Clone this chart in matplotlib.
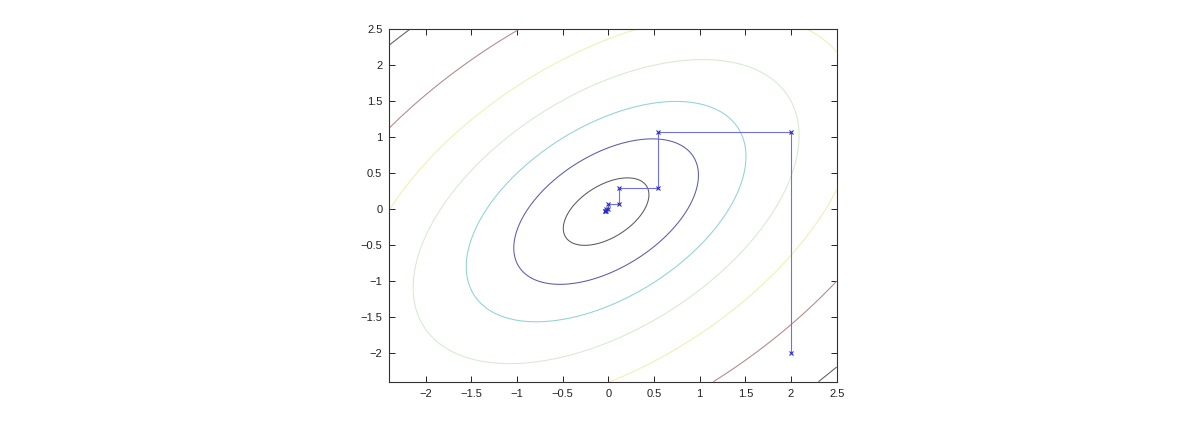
import numpy as np
import matplotlib
matplotlib.use("Agg")
import matplotlib.pyplot as plt

plt.rcParams['font.family'] = ['Liberation Sans', 'DejaVu Sans']

# quadratic bowl: f = (x-cx)^2 - (x-cx)(y-cy) + (y-cy)^2
cx, cy = -0.025, -0.035
levels = [0.165, 0.767, 1.76, 3.35, 5.7, 9.75, 16.5]
level_colors = ['#5a5a5a', '#5a5ab2', '#8fd2d8', '#d6ead0', '#efefb2', '#b38585', '#5e5e5e']

# coordinate descent path
path_x = [2.0, 2.0, 0.54, 0.54, 0.115, 0.115, 0.0, 0.0, -0.03, -0.03, -0.04, -0.04]
path_y = [-2.0, 1.07, 1.07, 0.29, 0.29, 0.07, 0.07, 0.0, 0.0, -0.02, -0.02, -0.03]

xticks = [-2, -1.5, -1, -0.5, 0, 0.5, 1, 1.5, 2, 2.5]
yticks = [-2, -1.5, -1, -0.5, 0, 0.5, 1, 1.5, 2, 2.5]

fig = plt.figure(figsize=(12, 4.22), dpi=100)
ax = fig.add_axes([0.3244, 0.0955, 0.3728, 0.8351])

gx = np.linspace(-2.4, 2.5, 400)
gy = np.linspace(-2.4, 2.5, 400)
X, Y = np.meshgrid(gx, gy)
U, V = X - cx, Y - cy
Z = U**2 - U * V + V**2
ax.contour(X, Y, Z, levels=levels, colors=level_colors, linewidths=0.75)

ax.plot(path_x, path_y, '-', color='#7070e6', linewidth=0.8)
ax.plot(path_x, path_y, 'x', color='#2a2acc', markersize=3, markeredgewidth=0.8)

ax.set_xlim(-2.4, 2.5)
ax.set_ylim(-2.4, 2.5)
ax.set_xticks(xticks)
ax.set_yticks(yticks)
ax.set_xticklabels([f"{t:g}".replace('-', '\u2212') for t in xticks])
ax.set_yticklabels([f"{t:g}".replace('-', '\u2212') for t in yticks])
ax.tick_params(direction='in', top=True, right=True, length=4, width=0.7,
               labelsize=8, colors='#222222', pad=5)
for s in ax.spines.values():
    s.set_linewidth(0.8)
    s.set_color('#333333')

fig.savefig("out.png", dpi=100)
plt.close()
